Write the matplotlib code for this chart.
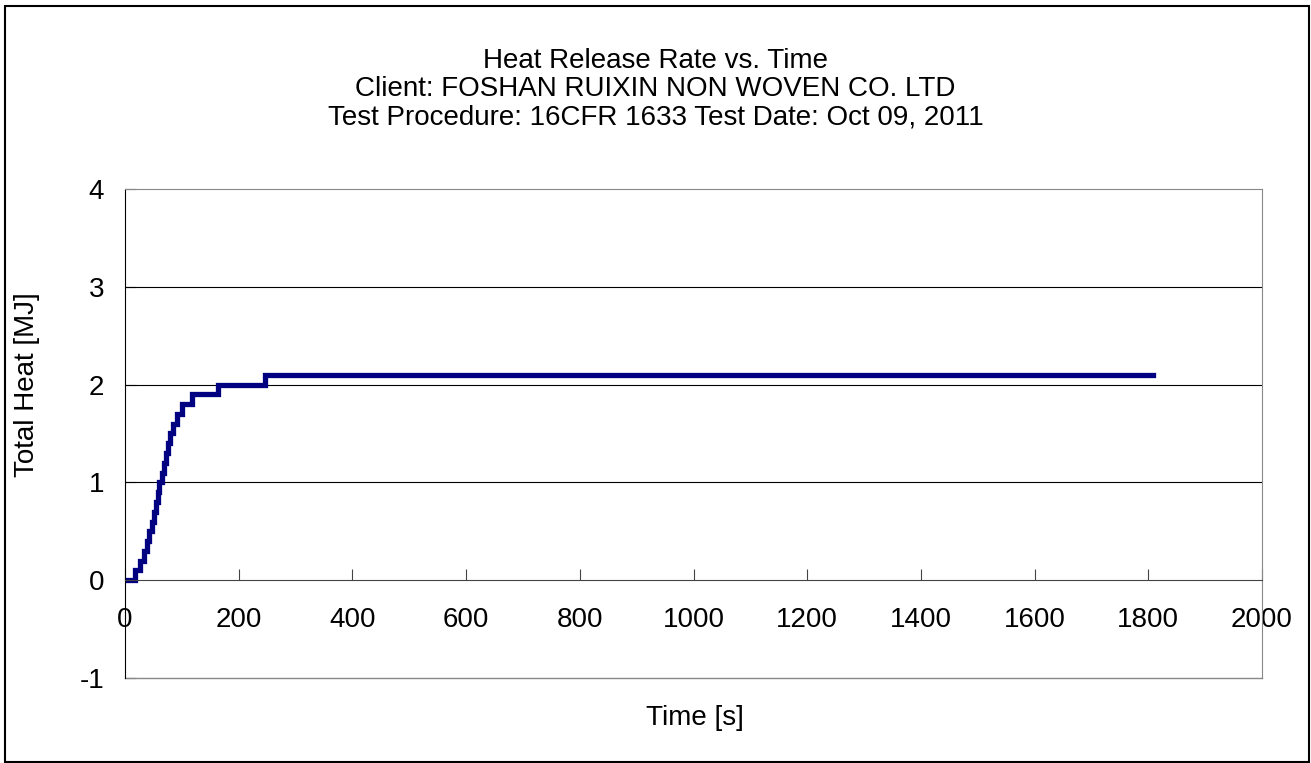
import matplotlib
matplotlib.use("Agg")
from matplotlib import pyplot as plt
from matplotlib.patches import Rectangle

# step data: time [s] at which the total heat changes, and the new value [MJ]
tiempos = [5, 17.6, 26, 34, 39, 43, 47, 51, 54.5, 57.5, 60.4, 64.5, 68.6, 72, 76,
           80, 85, 91, 99.6, 117, 163, 246, 1808]
calor = [0.0, 0.1, 0.2, 0.3, 0.4, 0.5, 0.6, 0.7, 0.8, 0.9, 1.0, 1.1, 1.2, 1.3, 1.4,
         1.5, 1.6, 1.7, 1.8, 1.9, 2.0, 2.1, 2.1]

xticks = [0, 200, 400, 600, 800, 1000, 1200, 1400, 1600, 1800, 2000]
yticks = [-1, 0, 1, 2, 3, 4]

plt.rcParams['font.family'] = ['Liberation Sans', 'DejaVu Sans']
plt.rcParams['axes.unicode_minus'] = False

fig = plt.figure(figsize=(13.11, 7.63), dpi=100)
ax = fig.add_axes([125 / 1311, 1 - 678 / 763, (1262 - 125) / 1311, (678 - 189) / 763])

ax.step(tiempos, calor, where="post", color="#000080", lw=3.8, solid_joinstyle="miter")

ax.set_xlim(0, 2000)
ax.set_ylim(-1, 4)
ax.set_xticks(xticks)
ax.set_yticks(yticks)

for y in [1, 2, 3]:
    ax.axhline(y, color="black", lw=0.8, zorder=0)

ax.spines['bottom'].set_position(('data', 0))
ax.spines['bottom'].set_color('#444444')
ax.spines['left'].set_color('black')
ax.spines['top'].set_color('#888888')
ax.spines['right'].set_color('#888888')
ax.plot([0, 1], [0, 0], transform=ax.transAxes, color='#888888', lw=1, clip_on=False)

ax.tick_params(axis='x', direction='in', length=8, pad=19, labelsize=20, color='#444444')
ax.tick_params(axis='y', direction='in', length=8, pad=15, labelsize=20)

fig.text(0.5, 1 - 61 / 763, "Heat Release Rate vs. Time", ha='center', va='center', fontsize=20)
fig.text(0.5, 1 - 89 / 763, "Client: FOSHAN RUIXIN NON WOVEN CO. LTD", ha='center', va='center', fontsize=20)
fig.text(0.5, 1 - 118 / 763, "Test Procedure: 16CFR 1633 Test Date: Oct 09, 2011",
         ha='center', va='center', fontsize=20)
fig.text(27 / 1311, 1 - 385 / 763, "Total Heat [MJ]", rotation=90, ha='center', va='center', fontsize=20)
fig.text(695 / 1311, 1 - 718 / 763, "Time [s]", ha='center', va='center', fontsize=20)

fig.patches.append(Rectangle((5 / 1311, 1 / 763), 1304 / 1311, 756 / 763, transform=fig.transFigure,
                             fill=False, edgecolor='black', lw=1.5))

fig.savefig("out.png", dpi=100)
